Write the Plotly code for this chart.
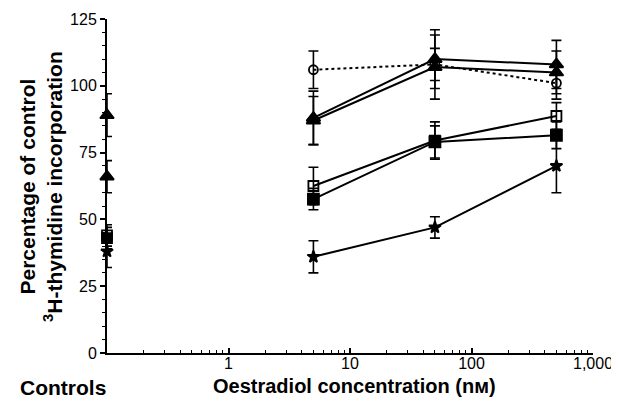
import plotly.graph_objects as go

# ---- data ----
conc = [5, 50, 500]
control_x = 0.1

open_circle = [106, 108, 101]
open_circle_err = [7, 6, 6]

tri_a = [88, 110, 108]
tri_a_err = [10, 11, 9]
tri_b = [87, 107, 105]
tri_b_err = [9, 12, 8]

open_square = [62.5, 79.5, 88.7]
open_square_err = [7, 7, 5]
filled_square = [57.6, 79, 81.5]
filled_square_err = [4, 6, 5]

star = [36, 47, 70]
star_err = [6, 4, 10]

control_tri = [89, 66]
control_tri_err = [8, 6]
control_sq_open = [44]
control_sq_filled = [43]
control_sq_err = [4]
control_star = [38]
control_star_err = [6]

xtick_vals = [1, 10, 100, 1000]
xtick_text = ["1", "10", "100", "1,000"]
xminor_vals = [m * d for d in (0.1, 1, 10, 100) for m in range(2, 10)]
ytick_vals = [0, 25, 50, 75, 100, 125]

FONT = "Liberation Sans, Arial, sans-serif"
BLACK = "black"

fig = go.Figure()

def err(vals):
    return dict(type="data", array=vals, visible=True, color=BLACK, thickness=1.6, width=5)

def series(y, e, symbol, size, dash="solid", x=conc, mode="lines+markers"):
    fig.add_trace(go.Scatter(
        x=x, y=y, mode=mode, cliponaxis=False,
        line=dict(color=BLACK, width=2, dash=dash),
        marker=dict(symbol=symbol, size=size, color=BLACK,
                    line=dict(color=BLACK, width=1.8)),
        error_y=err(e), showlegend=False))

series(open_circle, open_circle_err, "circle-open", 9, dash="dot")
series(tri_a, tri_a_err, "triangle-up", 12)
series(tri_b, tri_b_err, "triangle-up", 12)
series(open_square, open_square_err, "square-open", 10)
series(filled_square, filled_square_err, "square", 11)
series(star, star_err, "star", 9)

# controls on the y axis
series(control_tri, control_tri_err, "triangle-up", 12, x=[control_x] * 2, mode="markers")
series(control_sq_open, control_sq_err, "square-open", 10, x=[control_x], mode="markers")
series(control_sq_filled, control_sq_err, "square", 10, x=[control_x], mode="markers")
series(control_star, control_star_err, "star", 9, x=[control_x], mode="markers")

fig.update_xaxes(
    type="log", range=[-1, 3], automargin=False,
    tickvals=xtick_vals, ticktext=xtick_text,
    ticks="inside", ticklen=5, tickwidth=1.5, tickcolor=BLACK,
    ticklabelstandoff=-5,
    minor=dict(ticks="inside", tickmode="array", tickvals=xminor_vals,
               ticklen=3, tickwidth=1.2, tickcolor=BLACK, showgrid=False),
    showline=True, linecolor=BLACK, linewidth=2, showgrid=False, zeroline=False,
    tickfont=dict(family=FONT, size=16, color=BLACK),
)
fig.update_yaxes(
    range=[0, 125], tickvals=ytick_vals, automargin=False,
    ticks="outside", ticklen=5, tickwidth=1.5, tickcolor=BLACK,
    minor=dict(ticks="outside", dtick=5, ticklen=3, tickwidth=1.2, tickcolor=BLACK, showgrid=False),
    showline=True, linecolor=BLACK, linewidth=2, showgrid=False, zeroline=False,
    tickfont=dict(family=FONT, size=16, color=BLACK),
)

annotations = [
    dict(text="<b>Percentage of control<br><sup>3</sup>H-thymidine incorporation</b>",
         x=-0.136, y=0.5, xref="paper", yref="paper", textangle=-90,
         showarrow=False, font=dict(family=FONT, size=21, color=BLACK),
         xanchor="center", yanchor="middle"),
    dict(text="<b>Controls</b>", x=-0.09, y=-0.102, xref="paper", yref="paper",
         showarrow=False, font=dict(family=FONT, size=21, color=BLACK),
         xanchor="center", yanchor="middle"),
    dict(text="<b>Oestradiol concentration (nм)</b>", x=0.51, y=-0.1,
         xref="paper", yref="paper", showarrow=False,
         font=dict(family=FONT, size=20, color=BLACK),
         xanchor="center", yanchor="middle"),
]
# page body adds an 8px offset, so the figure is sized and placed to compensate
fig.update_layout(
    width=611, height=395,
    margin=dict(l=99, r=26, t=11, b=50, autoexpand=False),
    paper_bgcolor="white", plot_bgcolor="white",
    annotations=annotations, showlegend=False,
)

fig.write_html("out.html")
